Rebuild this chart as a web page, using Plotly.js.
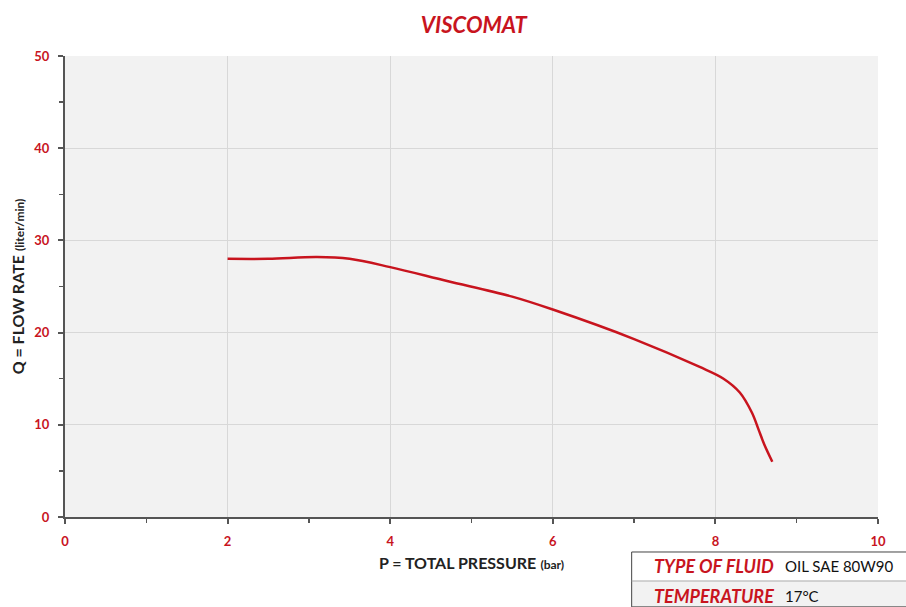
<!DOCTYPE html>
<html><head><meta charset="utf-8">
<script src="https://cdn.plot.ly/plotly-3.0.1.min.js"></script>
<style>body{margin:0;background:#fff}#chart{width:906px;height:607px}</style>
</head><body><div id="chart"></div>
<script>
const pressure = [2.0, 2.5, 3.1, 3.5, 4.0, 4.7, 5.5, 6.0, 7.0, 7.8, 8.1, 8.3, 8.45, 8.53, 8.6, 8.70];
const flowRate = [28.0, 28.0, 28.2, 28.0, 27.1, 25.6, 23.9, 22.5, 19.3, 16.3, 15.0, 13.5, 11.3, 9.5, 7.9, 6.0];
const xTicks = [0, 2, 4, 6, 8, 10];
const yTicks = [0, 10, 20, 30, 40, 50];
const fluidLabel = "TYPE OF FLUID", fluidValue = "OIL SAE 80W90";
const tempLabel = "TEMPERATURE", tempValue = "17°C";

const red = "#c8141e";
const font = "Lato, 'Open Sans', sans-serif";

const trace = {x: pressure, y: flowRate, mode: "lines", type: "scatter",
  line: {color: red, width: 2.5, shape: "spline", smoothing: 1.0}, hoverinfo: "skip"};

const axisCommon = {showline: true, linecolor: "#555", linewidth: 2, ticks: "outside", ticklen: 5, tickwidth: 2, tickcolor: "#555",
  gridcolor: "#d8d8d8", gridwidth: 1, zeroline: false, tickfont: {family: font, size: 13, color: red, weight: 700},
  minor: {ticks: "outside", ticklen: 4, tickwidth: 1.5, tickcolor: "#555", showgrid: false}};

const layout = {
  width: 906, height: 607,
  margin: {l: 65, r: 28, t: 56, b: 90},
  paper_bgcolor: "#fff", plot_bgcolor: "#f2f2f2",
  showlegend: false,
  title: {text: "<i><b>VISCOMAT</b></i>", x: 0.523, xanchor: "center", y: 0.958, yanchor: "middle",
    font: {family: font, size: 22, color: red}},
  xaxis: Object.assign({}, axisCommon, {range: [0, 10], tickvals: xTicks, ticktext: xTicks.map(String), ticklabelstandoff: 6,
    minor: Object.assign({}, axisCommon.minor, {dtick: 1}),
    title: {text: "<b>P = TOTAL PRESSURE</b> <span style='font-size:12px'><b>(bar)</b></span>", standoff: 10,
      font: {family: font, size: 16, color: "#222"}}}),
  yaxis: Object.assign({}, axisCommon, {range: [0, 50], tickvals: yTicks, ticktext: yTicks.map(String), ticklabelstandoff: 6,
    minor: Object.assign({}, axisCommon.minor, {dtick: 5}),
    title: {text: "<b>Q = FLOW RATE</b> <span style='font-size:12px'><b>(liter/min)</b></span>", standoff: 6,
      font: {family: font, size: 16, color: "#222"}}}),
  shapes: [
    {type: "rect", xref: "paper", yref: "paper", x0: 0.697, x1: 1.05, y0: -0.1388, y1: -0.195, fillcolor: "#f2f2f2", line: {width: 0}, layer: "below"},
    {type: "rect", xref: "paper", yref: "paper", x0: 0.697, x1: 1.05, y0: -0.0759, y1: -0.195, fillcolor: "rgba(0,0,0,0)", line: {color: "#444", width: 1}},
    {type: "line", xref: "paper", yref: "paper", x0: 0.697, x1: 1.05, y0: -0.1388, y1: -0.1388, line: {color: "#aaa", width: 1}}
  ],
  annotations: [
    {xref: "paper", yref: "paper", x: 0.8745, y: -0.107, xanchor: "right", yanchor: "middle", showarrow: false,
      text: "<i><b>" + fluidLabel + "</b></i>", font: {family: font, size: 18, color: red}},
    {xref: "paper", yref: "paper", x: 0.883, y: -0.107, xanchor: "left", yanchor: "middle", showarrow: false,
      text: fluidValue, font: {family: font, size: 15, color: "#111"}},
    {xref: "paper", yref: "paper", x: 0.8745, y: -0.172, xanchor: "right", yanchor: "middle", showarrow: false,
      text: "<i><b>" + tempLabel + "</b></i>", font: {family: font, size: 18, color: red}},
    {xref: "paper", yref: "paper", x: 0.883, y: -0.172, xanchor: "left", yanchor: "middle", showarrow: false,
      text: tempValue, font: {family: font, size: 15, color: "#111"}}
  ]
};
Plotly.newPlot("chart", [trace], layout, {displayModeBar: false, staticPlot: true});
</script></body></html>
